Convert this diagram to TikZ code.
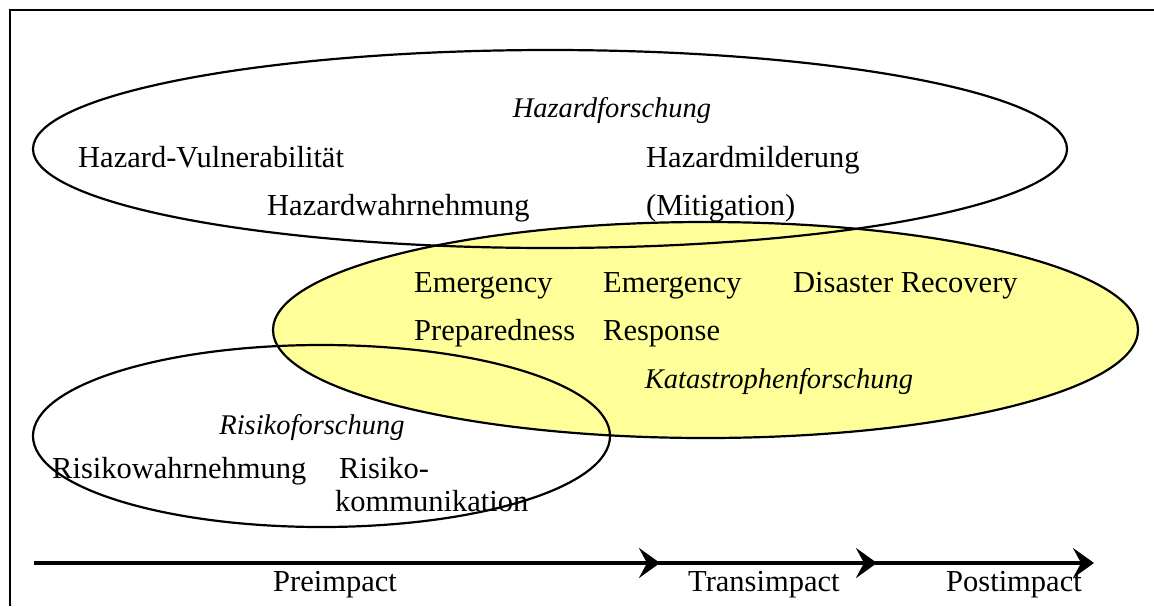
\documentclass[tikz,border=0pt]{standalone}
\usepackage{fontspec}
\setmainfont{Liberation Serif}
\usetikzlibrary{arrows.meta}
\definecolor{paleyellow}{RGB}{255,255,153}
\tikzset{
  lbl/.style={anchor=base west, inner sep=0pt, font=\fontsize{30.5}{36}\selectfont},
  ilbl/.style={anchor=base, inner sep=0pt, font=\fontsize{28.5}{36}\selectfont\itshape},
  region/.style={draw=black, line width=2.2pt},
  timeline/.style={line width=3.4pt, -{Stealth[length=21pt,width=30pt,inset=8pt]}},
}
\begin{document}
\begin{tikzpicture}[x=1pt,y=-1pt]
\useasboundingbox (0,0) rectangle (1154,606);
\fill[white] (0,0) rectangle (1154,606);
% frame (only left and top edges visible)
\draw[line width=2.2pt] (10,606) -- (10,10) -- (1154,10);
% yellow fill first
\fill[paleyellow] (705.5,330) ellipse [x radius=432.5, y radius=108];
% outlines
\draw[region] (550,149) ellipse [x radius=517, y radius=99];
\draw[region] (705.5,330) ellipse [x radius=432.5, y radius=108];
\draw[region] (321.5,436) ellipse [x radius=288.5, y radius=91];
% Hazard labels
\node[ilbl] (hf) at (612,117) {Hazardforschung};
\node[lbl] (hv) at (78,167) {Hazard-Vulnerabilität};
\node[lbl] (hm) at (646,167) {Hazardmilderung};
\node[lbl] (hw) at (267,215) {Hazardwahrnehmung};
\node[lbl] (mi) at (646,215) {(Mitigation)};
% Katastrophe labels
\node[lbl] (e1) at (414,292) {Emergency};
\node[lbl] (e2) at (603,292) {Emergency};
\node[lbl] (dr) at (793,292) {Disaster Recovery};
\node[lbl] (pr) at (414,340) {Preparedness};
\node[lbl] (rs) at (603,340) {Response};
\node[ilbl] (kf) at (779,388) {Katastrophenforschung};
% Risiko labels
\node[ilbl] (rf) at (312,434) {Risikoforschung};
\node[lbl] (rw) at (52,478) {Risikowahrnehmung};
\node[lbl] (rk) at (339,478) {Risiko-};
\node[lbl] (ko) at (335,511) {kommunikation};
% timeline
\coordinate (t0) at (34,563);
\coordinate (t1) at (660,563);
\coordinate (t1b) at (658,563);
\coordinate (t2) at (877,563);
\coordinate (t2b) at (875,563);
\coordinate (t3) at (1094,563);
\draw[timeline] (t0) -- (t1);
\draw[timeline] (t1b) -- (t2);
\draw[timeline] (t2b) -- (t3);
\node[lbl, anchor=base] (pre) at (335,591) {Preimpact};
\node[lbl] (tra) at (688,591) {Transimpact};
\node[lbl] (post) at (946,591) {Postimpact};
\end{tikzpicture}
\end{document}
